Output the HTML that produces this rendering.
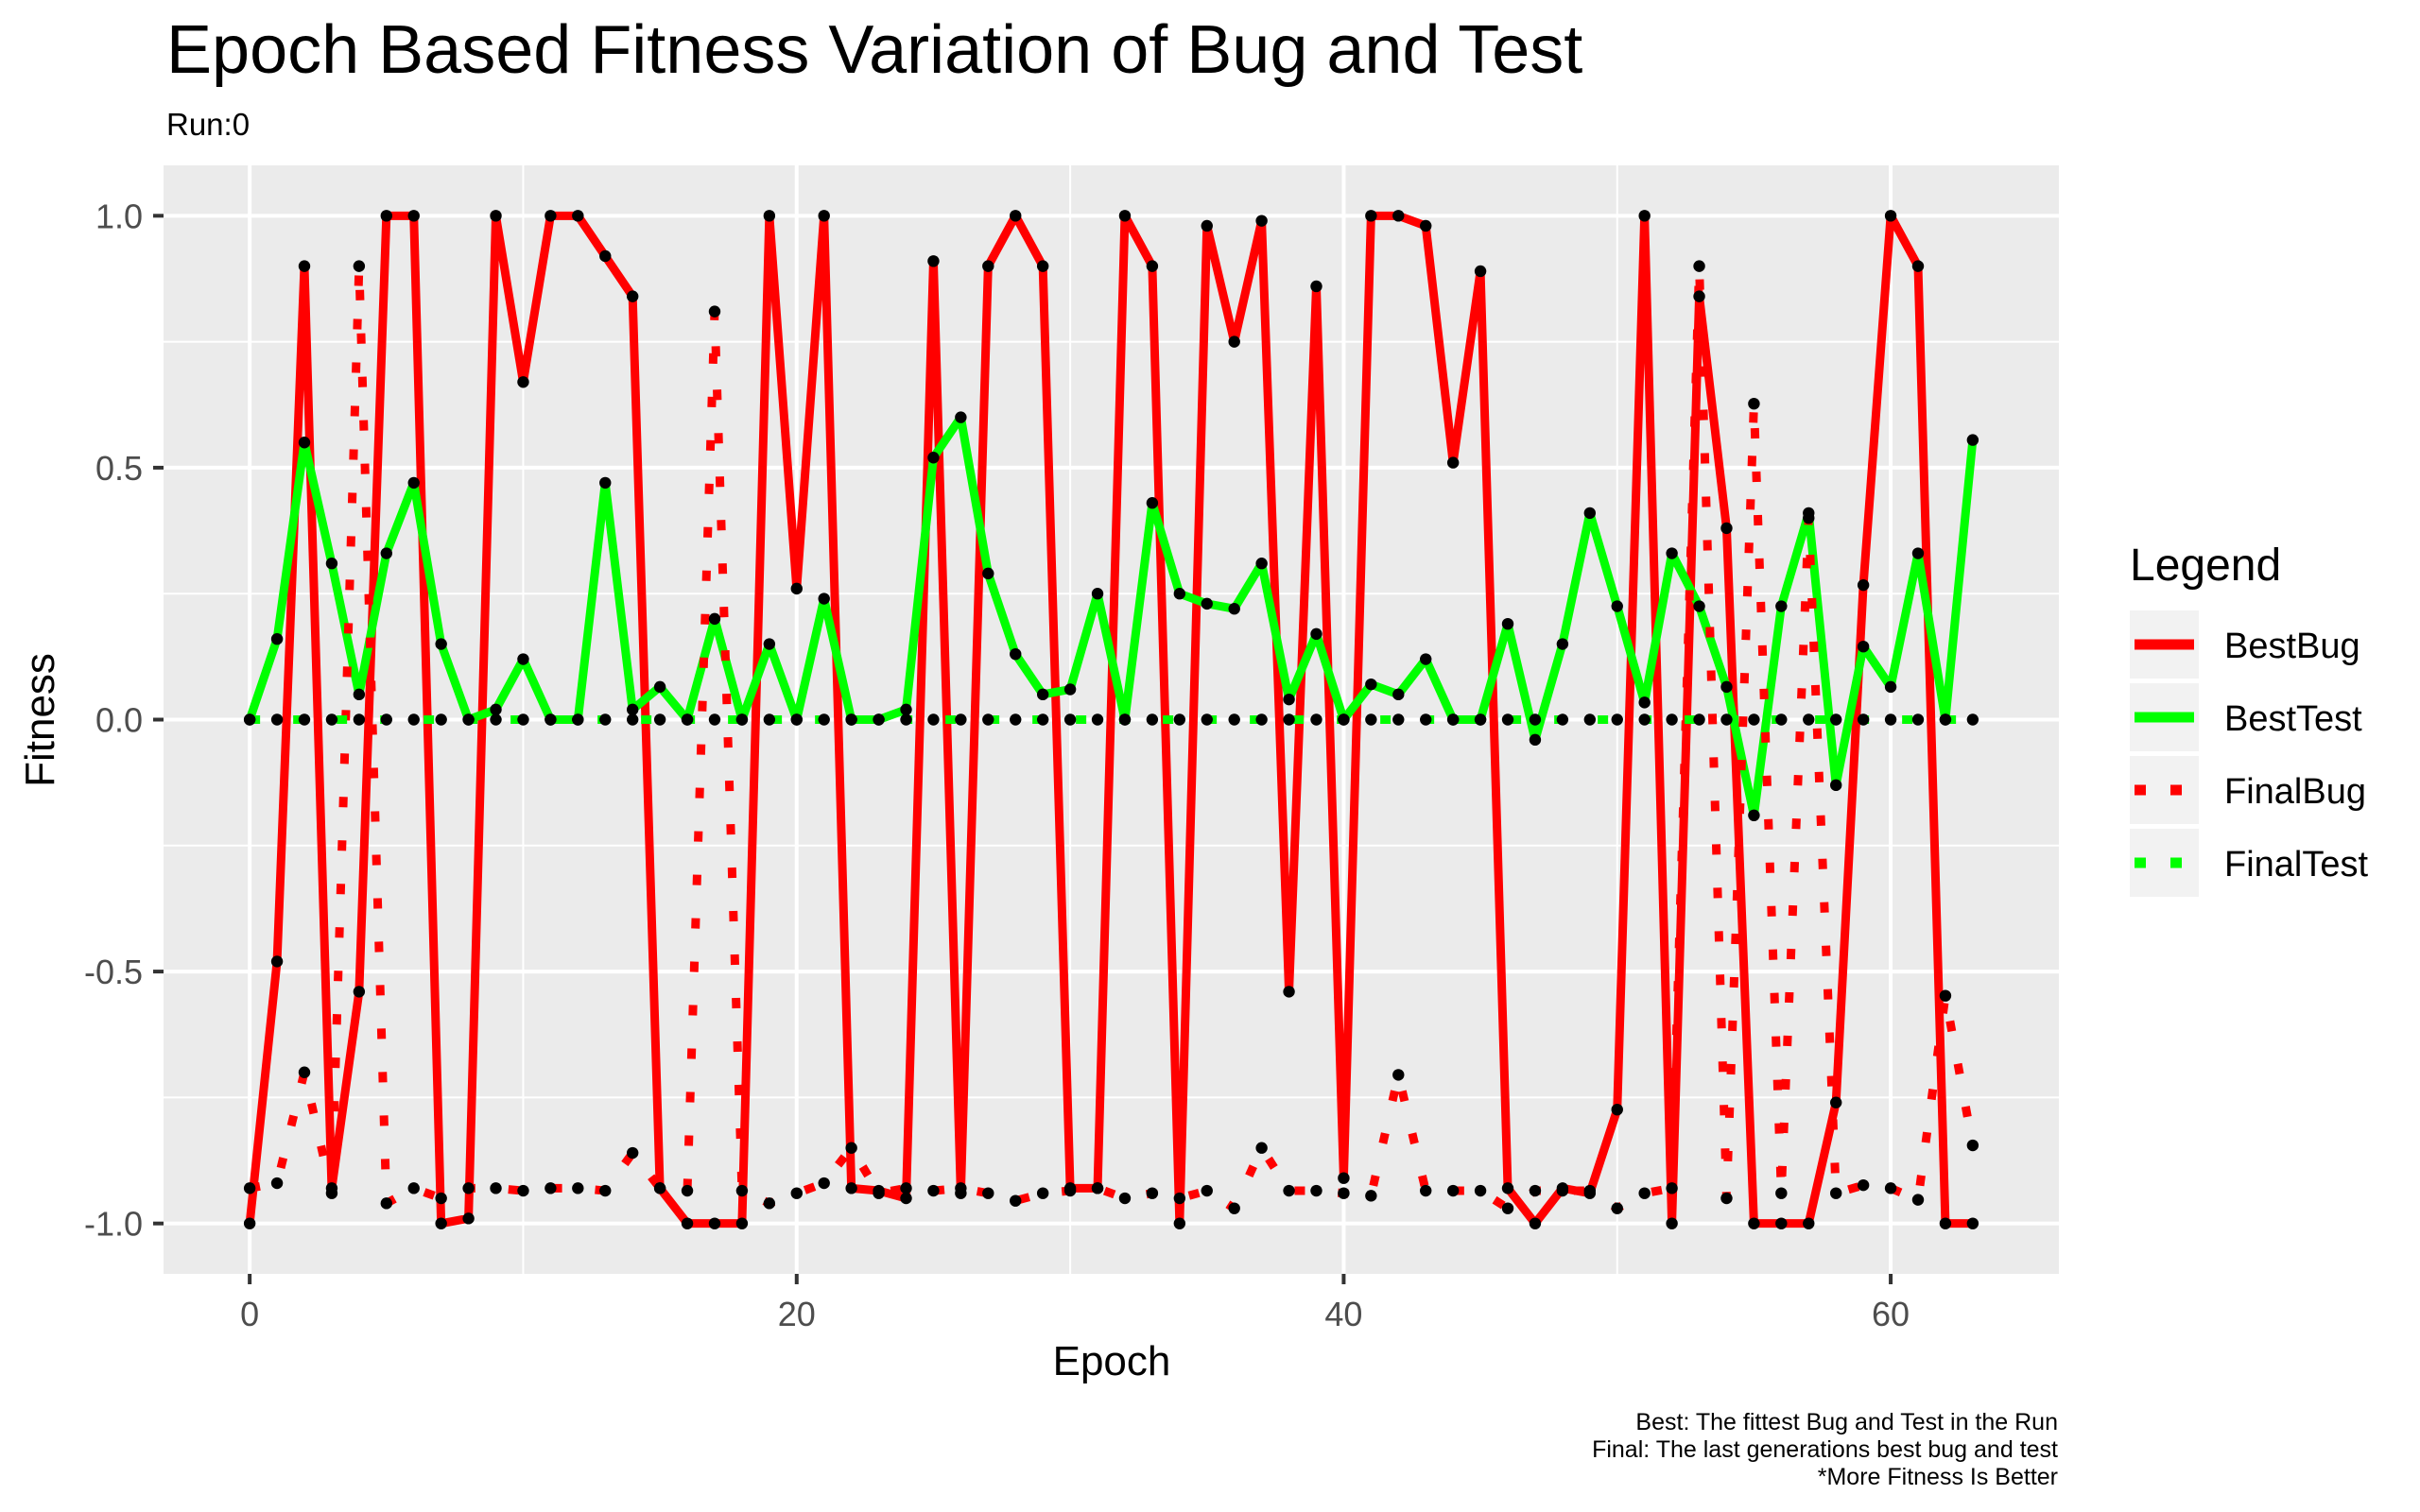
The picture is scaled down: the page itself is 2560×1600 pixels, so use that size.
<!DOCTYPE html>
<html>
<head>
<meta charset="utf-8">
<style>
html,body{margin:0;padding:0;background:#fff;}
body{width:2560px;height:1600px;overflow:hidden;font-family:"Liberation Sans",Arial,sans-serif;}
svg{display:block;}
</style>
</head>
<body>
<svg id="chart" width="2560" height="1600" viewBox="0 0 2560 1600" xmlns="http://www.w3.org/2000/svg" font-family="Liberation Sans, Arial, sans-serif">
  <text x="176" y="77" font-size="72" fill="#000">Epoch Based Fitness Variation of Bug and Test</text>
  <text x="176" y="143" font-size="33" fill="#000">Run:0</text>
  <rect x="173" y="175" width="2005" height="1173" fill="#EBEBEB"/>
  <g id="grid"></g>
  <g id="series"></g>
  <g id="points"></g>
  <g id="axes"></g>
  <text x="1176" y="1455" font-size="44" text-anchor="middle" fill="#000">Epoch</text>
  <text transform="translate(57,762) rotate(-90)" font-size="44" text-anchor="middle" fill="#000">Fitness</text>
  <g>
    <text x="2253" y="614" font-size="48" fill="#000">Legend</text>
    <g>
      <rect x="2253" y="646" width="73" height="72" fill="#F2F2F2"/>
      <line x1="2258" y1="682" x2="2321" y2="682" stroke="#FF0000" stroke-width="11"/>
      <text x="2353" y="696" font-size="38" fill="#000">BestBug</text>
    </g>
    <g>
      <rect x="2253" y="723" width="73" height="72" fill="#F2F2F2"/>
      <line x1="2258" y1="759" x2="2321" y2="759" stroke="#00FF00" stroke-width="11"/>
      <text x="2353" y="773" font-size="38" fill="#000">BestTest</text>
    </g>
    <g>
      <rect x="2253" y="800" width="73" height="72" fill="#F2F2F2"/>
      <line x1="2258" y1="836" x2="2321" y2="836" stroke="#FF0000" stroke-width="11" stroke-dasharray="12 26"/>
      <text x="2353" y="850" font-size="38" fill="#000">FinalBug</text>
    </g>
    <g>
      <rect x="2253" y="877" width="73" height="72" fill="#F2F2F2"/>
      <line x1="2258" y1="913" x2="2321" y2="913" stroke="#00FF00" stroke-width="11" stroke-dasharray="12 26"/>
      <text x="2353" y="927" font-size="38" fill="#000">FinalTest</text>
    </g>
  </g>
  <g font-size="25" text-anchor="end" fill="#000">
    <text x="2177" y="1513">Best: The fittest Bug and Test in the Run</text>
    <text x="2177" y="1542">Final: The last generations best bug and test</text>
    <text x="2177" y="1571">*More Fitness Is Better</text>
  </g>
</svg>
<script>
const epochs = Array.from({length:64},(_,i)=>i);
const bestBug = [-1.0,-0.48,0.90,-0.93,-0.54,1.0,1.0,-1.0,-0.99,1.0,0.67,1.0,1.0,0.92,0.84,-0.93,-1.0,-1.0,-1.0,1.0,0.26,1.0,-0.93,-0.935,-0.95,0.91,-0.94,0.90,1.0,0.90,-0.93,-0.93,1.0,0.90,-1.0,0.98,0.75,0.99,-0.54,0.86,-0.91,1.0,1.0,0.98,0.51,0.89,-0.93,-1.0,-0.93,-0.94,-0.774,1.0,-1.0,0.84,0.38,-1.0,-1.0,-1.0,-0.76,0.267,1.0,0.90,-1.0,-1.0];
const bestTest = [0,0.16,0.55,0.31,0.05,0.33,0.47,0.15,0,0.02,0.12,0,0,0.47,0.02,0.065,0,0.2,0,0.15,0,0.24,0,0,0.02,0.52,0.6,0.29,0.13,0.05,0.06,0.25,0,0.43,0.25,0.23,0.22,0.31,0.04,0.17,0,0.07,0.05,0.12,0,0,0.19,-0.04,0.15,0.41,0.225,0.034,0.33,0.225,0.065,-0.19,0.225,0.41,-0.13,0.145,0.065,0.33,0,0.555];
const finalBug = [-0.93,-0.92,-0.70,-0.94,0.90,-0.96,-0.93,-0.95,-0.93,-0.93,-0.935,-0.93,-0.93,-0.935,-0.86,-0.93,-0.935,0.81,-0.935,-0.96,-0.94,-0.92,-0.85,-0.94,-0.93,-0.935,-0.93,-0.94,-0.955,-0.94,-0.935,-0.93,-0.95,-0.94,-0.95,-0.935,-0.97,-0.85,-0.935,-0.935,-0.94,-0.945,-0.705,-0.935,-0.935,-0.935,-0.97,-0.935,-0.935,-0.935,-0.97,-0.94,-0.93,0.90,-0.95,0.627,-0.94,0.40,-0.94,-0.924,-0.93,-0.953,-0.548,-0.845];
const finalTest = new Array(64).fill(0);
const xTicks = [0,20,40,60];
const xMinor = [10,30,50];
const yTicks = [-1,-0.5,0,0.5,1];
const yTickLabels = ["-1.0","-0.5","0.0","0.5","1.0"];
const yMinor = [-0.75,-0.25,0.25,0.75];

const NS = "http://www.w3.org/2000/svg";
const PX0 = 173, PX1 = 2178, PY0 = 175, PY1 = 1348;
const xMin = -3.15, xMax = 66.15, yMin = -1.1, yMax = 1.1;
function sx(v){ return PX0 + (v - xMin) / (xMax - xMin) * (PX1 - PX0); }
function sy(v){ return PY1 - (v - yMin) / (yMax - yMin) * (PY1 - PY0); }
function mk(tag, attrs, parent){
  const el = document.createElementNS(NS, tag);
  for (const k in attrs) el.setAttribute(k, attrs[k]);
  parent.appendChild(el);
  return el;
}
const grid = document.getElementById('grid');
yMinor.forEach(v=>{
  const l = mk('line',{x1:PX0,x2:PX1,y1:sy(v),y2:sy(v),stroke:'#fff','stroke-width':2},grid);
  
  
});
xMinor.forEach(v=>{
  const l = mk('line',{x1:sx(v),x2:sx(v),y1:PY0,y2:PY1,stroke:'#fff','stroke-width':2},grid);
  
  
});
yTicks.forEach(v=>{
  const l = mk('line',{x1:PX0,x2:PX1,y1:sy(v),y2:sy(v),stroke:'#fff','stroke-width':4},grid);
  
  
});
xTicks.forEach(v=>{
  const l = mk('line',{x1:sx(v),x2:sx(v),y1:PY0,y2:PY1,stroke:'#fff','stroke-width':4},grid);
  
  
});

const series = document.getElementById('series');
function pathFor(vals){ return vals.map((v,i)=>(i?'L':'M')+sx(epochs[i]).toFixed(2)+' '+sy(v).toFixed(2)).join(' '); }
const specs = [
  {name:'bestbug-line', vals:bestBug, color:'#FF0000', dash:null},
  {name:'besttest-line', vals:bestTest, color:'#00FF00', dash:null},
  {name:'finalbug-line', vals:finalBug, color:'#FF0000', dash:'11 35'},
  {name:'finaltest-line', vals:finalTest, color:'#00FF00', dash:'11 35'}
];
specs.forEach(s=>{
  const p = mk('path',{d:pathFor(s.vals),fill:'none',stroke:s.color,'stroke-width':9,'stroke-linejoin':'round','stroke-linecap':'butt'},series);
  if (s.dash) p.setAttribute('stroke-dasharray', s.dash);
  
  
});
const pts = document.getElementById('points');
specs.forEach(s=>{
  s.vals.forEach((v,i)=>{
    const c = mk('circle',{cx:sx(epochs[i]),cy:sy(v),r:6.2,fill:'#000'},pts);
    
    
  });
});

const axes = document.getElementById('axes');
yTicks.forEach((v,i)=>{
  const t = mk('line',{x1:PX0-11,x2:PX0,y1:sy(v),y2:sy(v),stroke:'#333','stroke-width':4},axes);
  
  
  const tx = mk('text',{x:PX0-22,y:sy(v)+13,'font-size':36,'text-anchor':'end',fill:'#4D4D4D'},axes);
  tx.textContent = yTickLabels[i];
  
  
});
xTicks.forEach(v=>{
  const t = mk('line',{x1:sx(v),x2:sx(v),y1:PY1,y2:PY1+11,stroke:'#333','stroke-width':4},axes);
  
  
  const tx = mk('text',{x:sx(v),y:PY1+55,'font-size':36,'text-anchor':'middle',fill:'#4D4D4D'},axes);
  tx.textContent = String(v);
  
  
});
</script>
</body>
</html>
